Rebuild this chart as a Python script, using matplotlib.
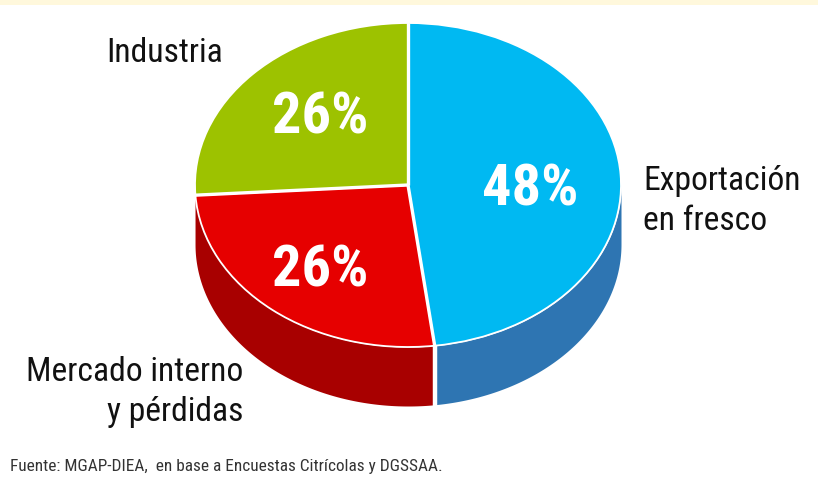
import numpy as np
import matplotlib
matplotlib.use("Agg")
import matplotlib.pyplot as plt
from matplotlib.patches import Rectangle

W, H = 818, 481
categories = ["Exportación\nen fresco", "Mercado interno\ny pérdidas", "Industria"]
shares = [48, 26, 26]
top_colors = ["#00B9F2", "#E60000", "#9DC200"]
side_colors = ["#2E75B2", "#A80000", "#A80000"]
pct_labels = ["48%", "26%", "26%"]

plt.rcParams['font.family'] = ['Roboto Condensed', 'Roboto', 'DejaVu Sans']
fig = plt.figure(figsize=(W / 100, H / 100), dpi=100, facecolor="white")
fig.add_artist(Rectangle((0, 1 - 6 / H), 1, 6 / H, transform=fig.transFigure,
                         facecolor="#FFF8DC", edgecolor="none"))

def px(x, y):
    return x / W, 1 - y / H

rx, ry, cx, cy = 213, 162, 408, 186
depth_px = 59
ax = fig.add_axes([(cx - rx) / W, 1 - (cy + ry + depth_px) / H,
                   2 * rx / W, (2 * ry + depth_px) / H])
depth = depth_px / ry

# side walls
fracs = np.array(shares) / sum(shares)
edges = np.concatenate([[0], np.cumsum(fracs)]) * 2 * np.pi
for i in range(len(shares)):
    a0, a1 = max(edges[i], np.pi / 2), min(edges[i + 1], 3 * np.pi / 2)
    if a1 <= a0:
        continue
    t = np.linspace(a0, a1, 200)
    x, y = np.sin(t), np.cos(t)
    ax.fill_between(x, y - depth, y, color=side_colors[i], lw=0, zorder=1)

ax.pie(shares, colors=top_colors, startangle=90, counterclock=False, radius=1,
       center=(0, 0), wedgeprops=dict(edgecolor="white", linewidth=1.3, zorder=3),
       frame=True)
ax.set_aspect("auto")
ax.set_xlim(-1, 1)
ax.set_ylim(-1 - depth, 1)
ax.axis("off")
for p in ax.patches:
    p.set_clip_on(False)

# separators between slices (top face) and on the front wall
for e in edges[:-1]:
    ax.plot([0, np.sin(e)], [0, np.cos(e)], color="white", lw=2.4,
            solid_capstyle="butt", zorder=4)
e = edges[1]
ax.plot([np.sin(e)] * 2, [np.cos(e) - depth - 0.02, np.cos(e)], color="white", lw=3.2,
        solid_capstyle="butt", zorder=2)

pct_pos = [(530, 190), (320, 271), (320, 118)]
for s, (x, y) in zip(pct_labels, pct_pos):
    fig.text(*px(x, y), s, color="white", fontsize=42, fontweight="bold",
             ha="center", va="center")

fig.text(*px(643, 201), categories[0], fontsize=24.2, color="#111111", ha="left",
         va="center", linespacing=1.3)
fig.text(*px(243, 392), categories[1], fontsize=24.2, color="#111111", ha="right",
         va="center", linespacing=1.3, multialignment="right")
fig.text(*px(106, 53), categories[2], fontsize=24.2, color="#111111", ha="left", va="center")
fig.text(*px(10, 466), "Fuente: MGAP-DIEA,  en base a Encuestas Citrícolas y DGSSAA.",
         fontsize=12.4, color="#333333", ha="left", va="center")

fig.savefig("out.png", dpi=100, facecolor="white")
